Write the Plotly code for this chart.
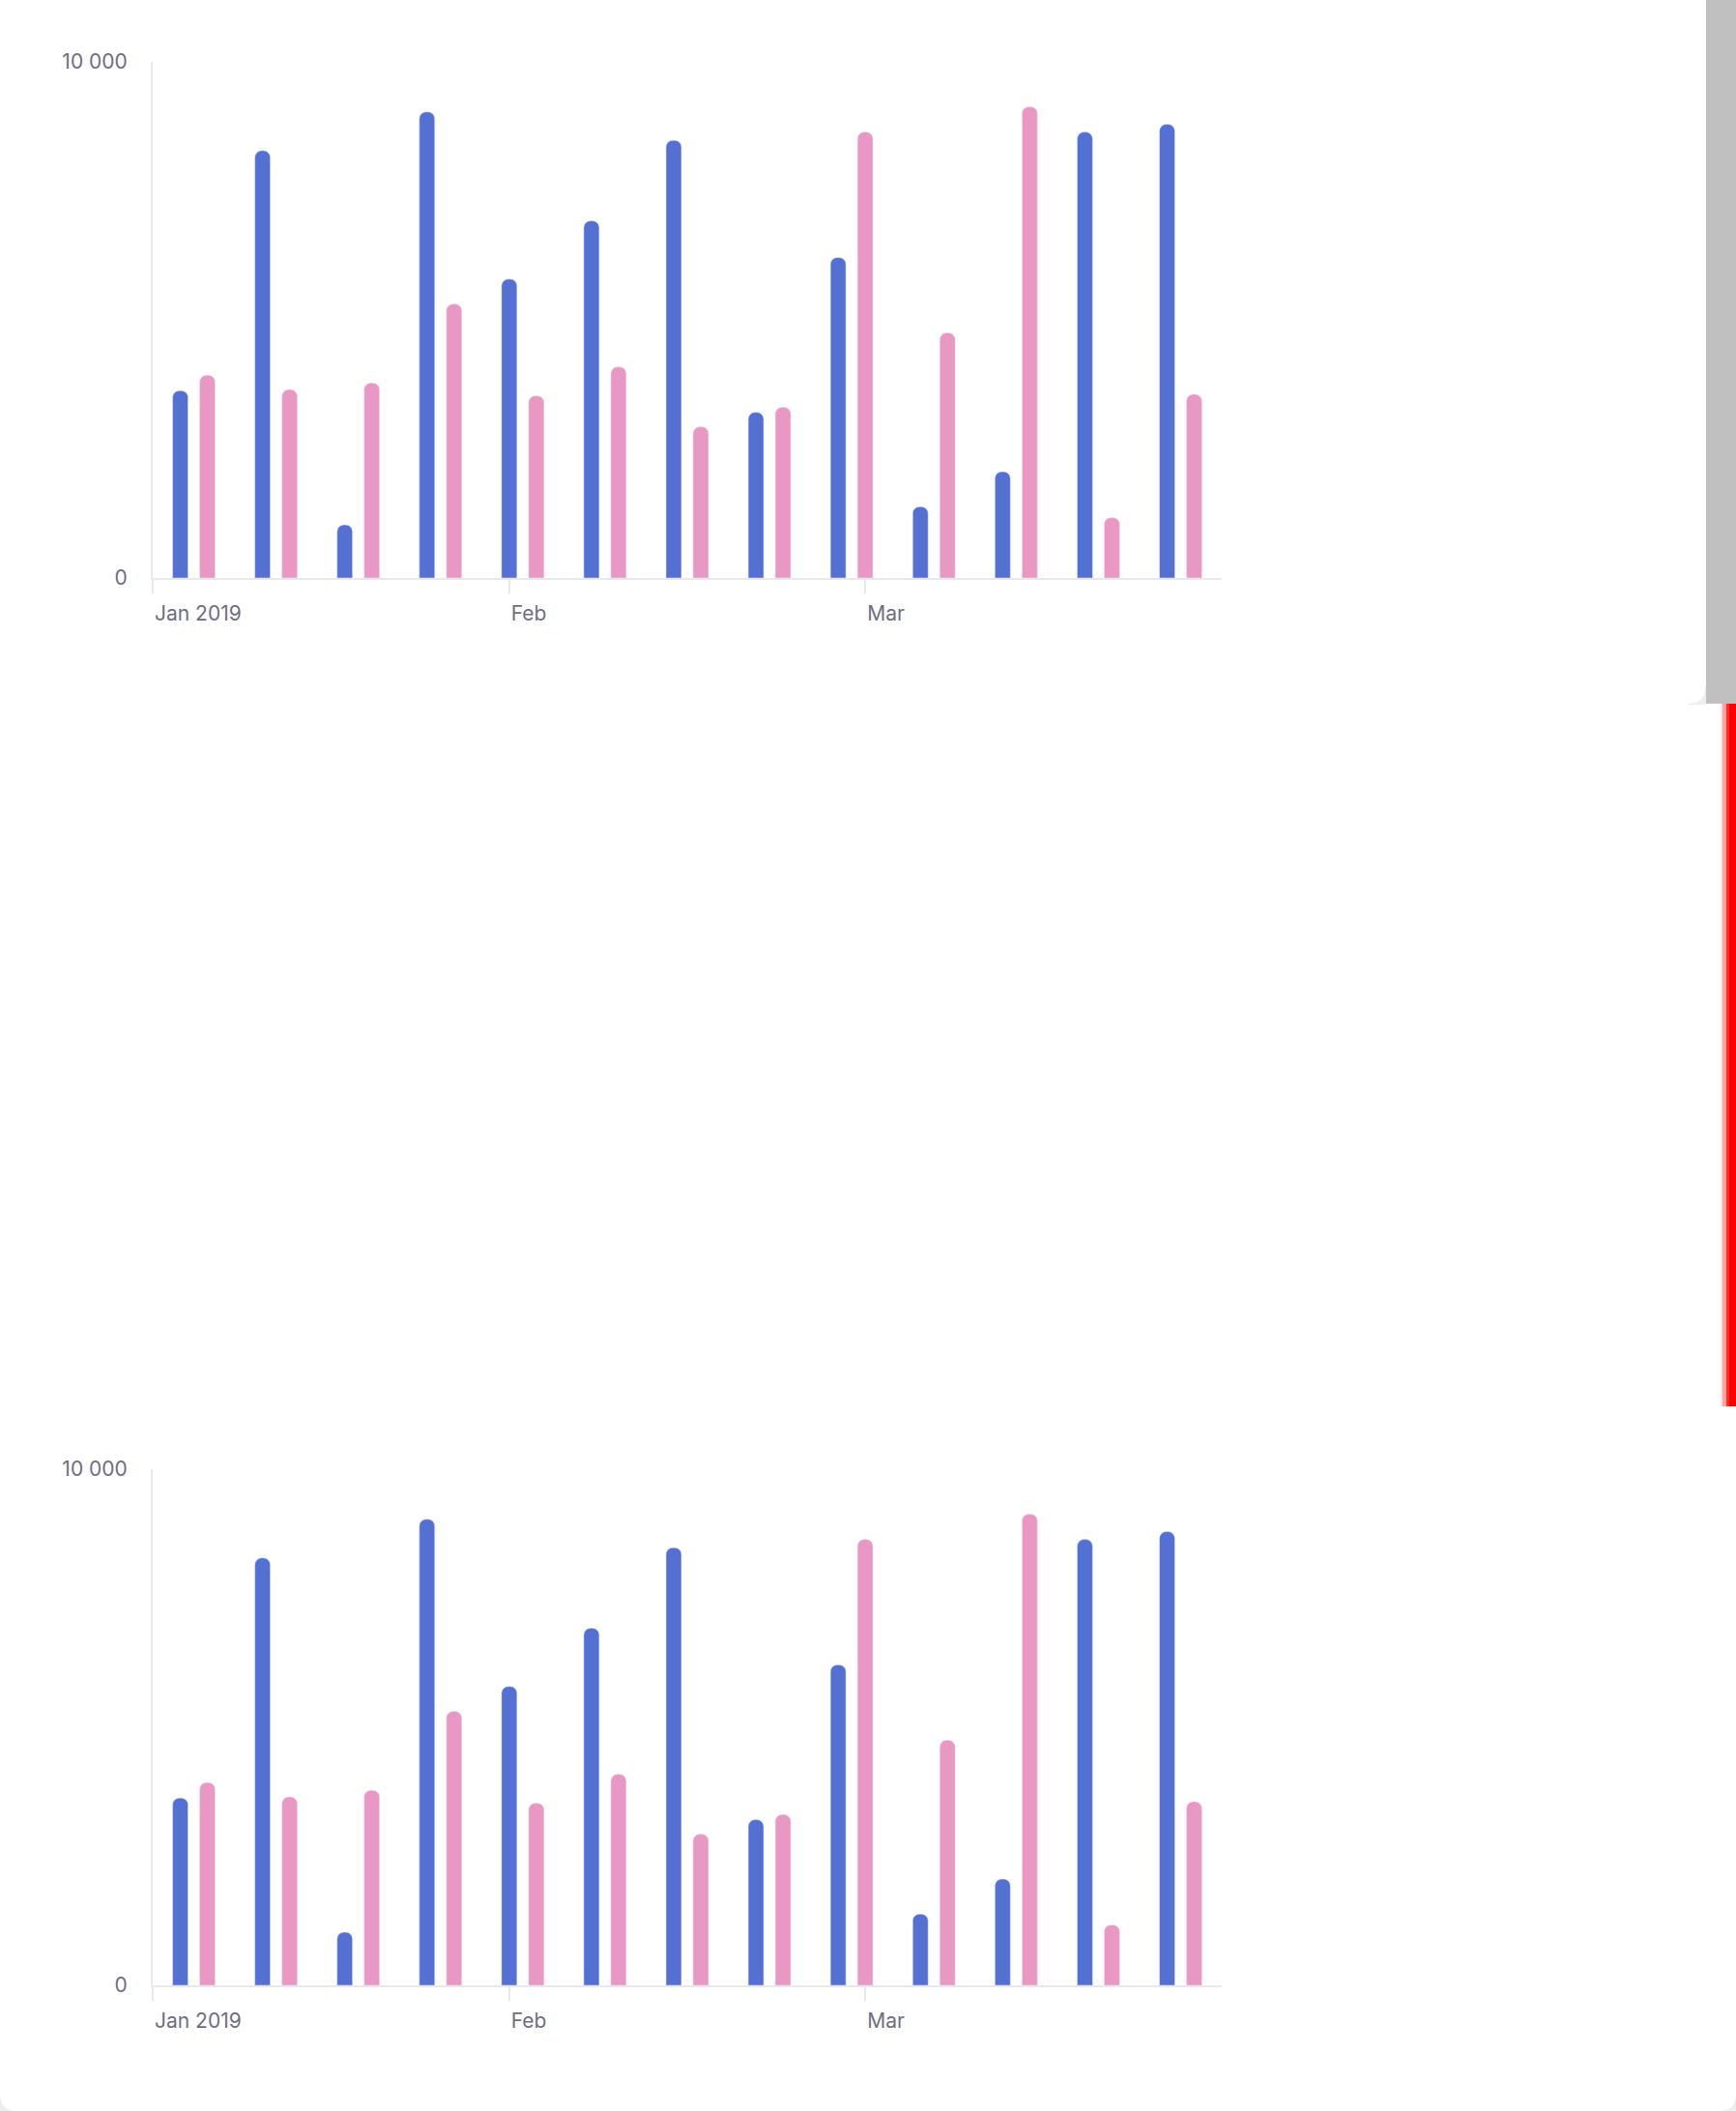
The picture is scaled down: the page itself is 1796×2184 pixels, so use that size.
import plotly.graph_objects as go

# ---- data ----
weeks = ["2019-01-01", "2019-01-08", "2019-01-15", "2019-01-22", "2019-01-29",
         "2019-02-05", "2019-02-12", "2019-02-19", "2019-02-26", "2019-03-05",
         "2019-03-12", "2019-03-19", "2019-03-26"]
series_a = [3630, 8280, 1030, 9030, 5790, 6920, 8480, 3210, 6210, 1380, 2060, 8640, 8790]
series_b = [3930, 3650, 3780, 5310, 3530, 4090, 2930, 3310, 8640, 4750, 9130, 1170, 3560]
month_labels = ["Jan 2019", "Feb", "Mar"]
y_ticks = [0, 10000]
y_tick_labels = ["0", "10 000"]

BLUE = "#5470D3"
PINK = "#E998C4"
AXIS = "#E8E8EC"
TEXT = "#6E6E82"

W, H = 1796, 2184

def px(x):
    return x / W

def py(y):
    return 1 - y / H

x_idx = list(range(len(weeks)))
n = len(weeks)
tick_pos = [-0.5 + i * n / len(month_labels) for i in range(len(month_labels))]

fig = go.Figure()

for k, ax in enumerate(["", "2"]):
    fig.add_trace(go.Bar(x=x_idx, y=series_a, marker=dict(color=BLUE, cornerradius=7),
                         name="A", xaxis="x" + ax, yaxis="y" + ax, hoverinfo="skip",
                         customdata=weeks))
    fig.add_trace(go.Bar(x=x_idx, y=series_b, marker=dict(color=PINK, cornerradius=7),
                         name="B", xaxis="x" + ax, yaxis="y" + ax, hoverinfo="skip",
                         customdata=weeks))

xdom = [px(158), px(1264)]
xaxis_common = dict(
    domain=xdom, range=[-0.5, n - 0.5], showgrid=False, zeroline=False,
    showline=True, linecolor=AXIS, linewidth=2,
    ticks="outside", ticklen=14, tickwidth=2, tickcolor=AXIS,
    tickvals=tick_pos, ticktext=month_labels, ticklabelposition="outside right",
    ticklabelstandoff=17, automargin=False,
    tickfont=dict(family="Inter", size=21, color=TEXT), layer="below traces",
    fixedrange=True,
)
yaxis_common = dict(
    range=[0, 10000], showgrid=False, zeroline=False,
    showline=True, linecolor=AXIS, linewidth=2, ticks="",
    tickvals=y_ticks, ticktext=y_tick_labels, ticklabelstandoff=20, automargin=False,
    tickfont=dict(family="Inter", size=21, color=TEXT), layer="below traces",
    fixedrange=True,
)

shapes = []
# top card corner shadow
shapes.append(dict(type="rect", xref="paper", yref="paper", layer="below",
                   x0=px(1746), x1=px(1765), y0=py(729), y1=py(710),
                   fillcolor="#EEEEEE", line=dict(width=0)))
# top card (white, rounded bottom-right)
r = 18
path = (f"M {px(0)},{py(0)} L {px(1764)},{py(0)} L {px(1764)},{py(728 - r)} "
        f"Q {px(1764)},{py(728)} {px(1764 - r)},{py(728)} L {px(0)},{py(728)} Z")
shapes.append(dict(type="path", path=path, xref="paper", yref="paper", layer="below",
                   fillcolor="#FFFFFF", line=dict(width=0)))
# scrollbar
shapes.append(dict(type="rect", xref="paper", yref="paper", layer="below",
                   x0=px(1765), x1=px(1796), y0=py(728), y1=py(0),
                   fillcolor="#C0C0C0", line=dict(width=0)))
# red marker stripe (gradient edge)
for x0, x1, c in [(1780, 1782, "#FFE2E2"), (1782, 1786, "#FFA3A3"),
                  (1786, 1789, "#FF2A2A"), (1789, 1796, "#FF0000")]:
    shapes.append(dict(type="rect", xref="paper", yref="paper", layer="below",
                       x0=px(x0), x1=px(x1), y0=py(1455), y1=py(728),
                       fillcolor=c, line=dict(width=0)))
# bottom card corner shadows
shapes.append(dict(type="rect", xref="paper", yref="paper", layer="below",
                   x0=px(0), x1=px(18), y0=py(2184), y1=py(2165),
                   fillcolor="#EEEEEE", line=dict(width=0)))
shapes.append(dict(type="rect", xref="paper", yref="paper", layer="below",
                   x0=px(1778), x1=px(1796), y0=py(2184), y1=py(2165),
                   fillcolor="#EEEEEE", line=dict(width=0)))
path2 = (f"M {px(0)},{py(1456)} L {px(1796)},{py(1456)} L {px(1796)},{py(2184 - r)} "
         f"Q {px(1796)},{py(2184)} {px(1796 - r)},{py(2184)} L {px(r)},{py(2184)} "
         f"Q {px(0)},{py(2184)} {px(0)},{py(2184 - r)} Z")
shapes.append(dict(type="path", path=path2, xref="paper", yref="paper", layer="below",
                   fillcolor="#FFFFFF", line=dict(width=0)))

fig.update_layout(
    width=W, height=H,
    margin=dict(l=0, r=0, t=0, b=0, pad=0, autoexpand=False),
    paper_bgcolor="#FFFFFF", plot_bgcolor="rgba(0,0,0,0)",
    showlegend=False, barmode="group", bargap=0.342, bargroupgap=0.43,
    xaxis=dict(xaxis_common, anchor="y"),
    yaxis=dict(yaxis_common, domain=[py(598), py(64)], anchor="x"),
    xaxis2=dict(xaxis_common, anchor="y2"),
    yaxis2=dict(yaxis_common, domain=[py(2054), py(1520)], anchor="x2"),
    shapes=shapes,
    font=dict(family="Inter", color=TEXT),
)

fig.write_html(
    "out.html",
    config={"displayModeBar": False},
    post_script="document.body.style.margin='0';document.body.style.overflow='hidden';",
)
